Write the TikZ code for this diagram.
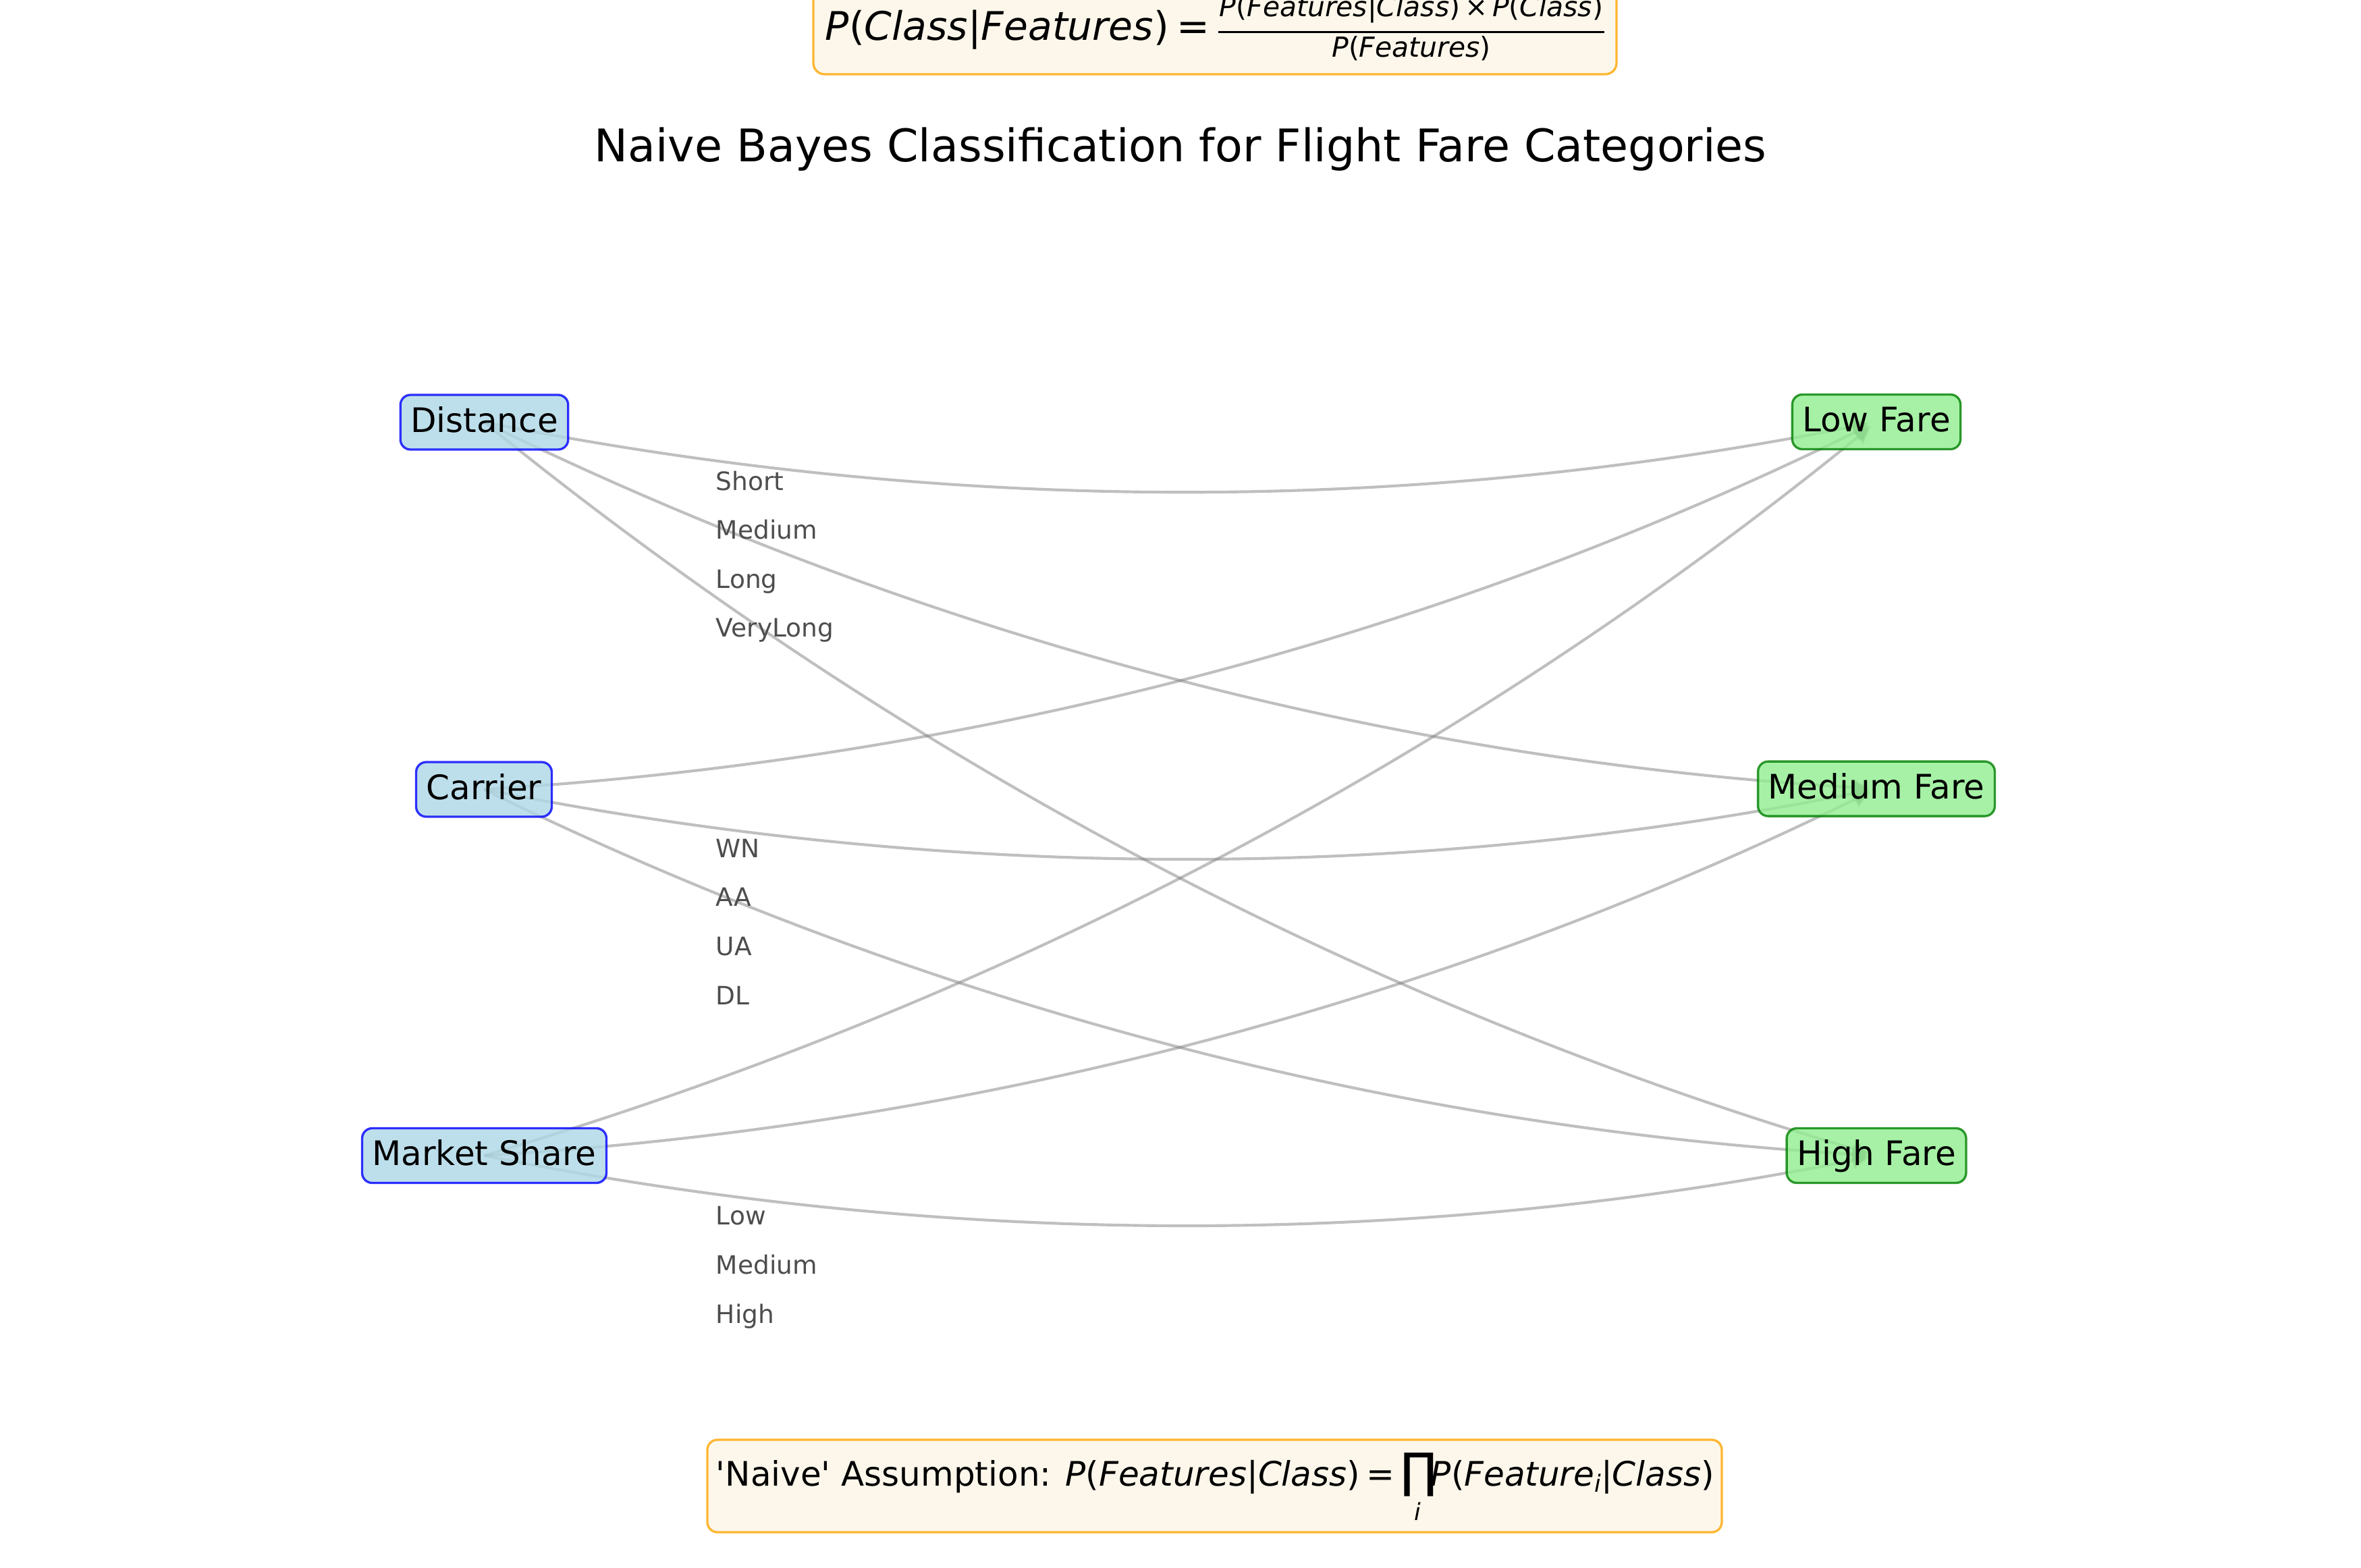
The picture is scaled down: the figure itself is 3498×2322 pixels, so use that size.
\documentclass[tikz,border=0pt]{standalone}
\usepackage{fontspec}
\setmainfont{DejaVu Sans}[ItalicFont={DejaVu Sans Oblique},BoldFont={DejaVu Sans Bold}]
\usetikzlibrary{calc,arrows.meta}
\pgfdeclarelayer{background}
\pgfsetlayers{background,main}
\definecolor{featfill}{RGB}{173,216,230}
\definecolor{classfill}{RGB}{144,238,144}
\definecolor{classdraw}{RGB}{0,128,0}
\definecolor{fbfill}{RGB}{253,245,230}
\definecolor{fbdraw}{RGB}{255,165,0}
\definecolor{lbl}{RGB}{77,77,77}
\tikzset{
 basebox/.style={rounded corners=3.6pt, fill opacity=0.8, draw opacity=0.8, text opacity=1,
   line width=0.8pt, font=\fontsize{12}{14.4}\selectfont, inner xsep=3.6pt, inner ysep=3.6pt,
   text height=9.6pt, text depth=2.64pt},
 featbox/.style={basebox, fill=featfill, draw=blue},
 classbox/.style={basebox, fill=classfill, draw=classdraw},
 edgeline/.style={draw=gray, draw opacity=0.5, line width=1pt,
   -{Triangle[length=6pt,width=6pt]}, shorten >=2.6pt},
 vallabel/.style={anchor=base west, inner sep=0pt, text=lbl, font=\fontsize{9}{10.8}\selectfont},
 formulabox/.style={rounded corners=4pt, fill=fbfill, fill opacity=0.8, draw=fbdraw, draw opacity=0.8, line width=0.8pt},
 ftext/.style={inner sep=0pt, anchor=base},
}
\begin{document}
\begin{tikzpicture}[x=0.24pt,y=-0.24pt]
\useasboundingbox (0,0) rectangle (3498,2322);
% nodes
\node[featbox] (dist) at (717.5,625.5) {Distance};
\node[featbox] (carr) at (717,1169.5) {Carrier};
\node[featbox] (mark) at (717.5,1712) {Market Share};
\node[classbox] (low) at (2780,625) {Low Fare};
\node[classbox] (med) at (2780,1168.6) {Medium Fare};
\node[classbox] (high) at (2780,1712) {High Fare};
% edges
\begin{pgfonlayer}{background}
\fill[white] (0,0) rectangle (3498,2322);
\foreach \a in {dist,carr,mark}{
  \foreach \b in {low,med,high}{
    \coordinate (m-\a-\b) at ($(\a.center)!0.5!(\b.center)$);
    \coordinate (c-\a-\b) at ($(m-\a-\b)!0.2!-90:(\b.center)$);
    \draw[edgeline] (\a.center) .. controls ($(\a.center)!2/3!(c-\a-\b)$) and ($(\b.center)!2/3!(c-\a-\b)$) .. (\b.center);
  }
}
\end{pgfonlayer}
% value labels
\node[vallabel] (d1) at (1060,726.5) {Short};
\node[vallabel] (d2) at (1060,798.8) {Medium};
\node[vallabel] (d3) at (1060,871.1) {Long};
\node[vallabel] (d4) at (1060,943.4) {VeryLong};
\node[vallabel] (c1) at (1060,1270) {WN};
\node[vallabel] (c2) at (1060,1342.7) {AA};
\node[vallabel] (c3) at (1060,1415.4) {UA};
\node[vallabel] (c4) at (1060,1488.1) {DL};
\node[vallabel] (s1) at (1060,1814) {Low};
\node[vallabel] (s2) at (1060,1887) {Medium};
\node[vallabel] (s3) at (1060,1960) {High};
% title
\node[ftext, font=\fontsize{16}{19.2}\selectfont] (title) at (1749,239.3) {Naive Bayes Classification for Flight Fare Categories};
% top formula
\draw[formulabox] (1205,-30) rectangle (2395,110);
\node[ftext, anchor=base west, font=\fontsize{14}{16.8}\selectfont] (tlhs) at (1222,60) {\textit{P}(\textit{Class}|\textit{Features})};
\node[ftext, font=\fontsize{14}{16.8}\selectfont] (teq) at (1767.5,60) {=};
\coordinate (barl) at (1805,47.3);
\coordinate (barr) at (2377,47.3);
\draw[line width=0.65pt] (barl) -- (barr);
\node[ftext, font=\fontsize{9.8}{11.8}\selectfont] (tnum) at (2091,25) {\textit{P}(\textit{Features}|\textit{Class})\,×\,\textit{P}(\textit{Class})};
\node[ftext, font=\fontsize{9.8}{11.8}\selectfont] (tden) at (2091,85) {\textit{P}(\textit{Features})};
% bottom formula
\draw[formulabox, rounded corners=3.6pt] (1048,2133) rectangle (2551,2270);
\node[ftext, anchor=base west, font=\fontsize{12}{14.4}\selectfont] (bpre) at (1060,2201.7) {\textquotesingle Naive\textquotesingle\ Assumption: \textit{P}(\textit{Features}|\textit{Class})};
\node[ftext, font=\fontsize{12}{14.4}\selectfont] (beq) at (2045,2201.7) {=};
\node[inner sep=0pt, font=\fontsize{17}{20}\selectfont] (bprod) at (2102,2184.5) {∏};
\node[ftext, font=\fontsize{8.4}{10}\selectfont] (bsub) at (2100,2252) {\textit{i}};
\node[ftext, anchor=base west, font=\fontsize{12}{14.4}\selectfont] (bpost) at (2119,2201.7) {\textit{P}(\textit{Feature}\raisebox{-2pt}{\fontsize{8.4}{10}\selectfont\textit{i}}|\textit{Class})};
\end{tikzpicture}
\end{document}
